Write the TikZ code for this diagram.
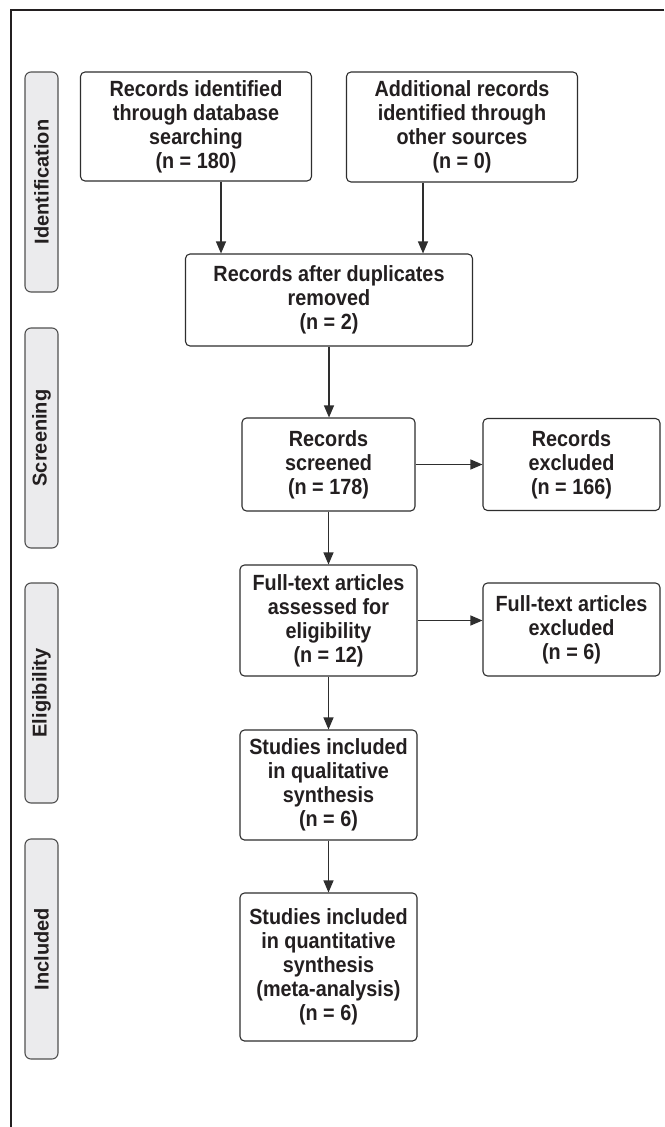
\documentclass[tikz,border=0pt]{standalone}
\usepackage{fontspec}
\setmainfont{Liberation Sans}
\newfontfamily\condfont{Liberation Sans}[FakeStretch=0.9]
\usetikzlibrary{arrows.meta}
\definecolor{txt}{HTML}{231F20}
\definecolor{linec}{HTML}{2E2E2E}
\definecolor{tabfill}{HTML}{EBEBED}
\definecolor{tabline}{HTML}{505050}
\begin{document}
\begin{tikzpicture}[x=1pt,y=-1pt,
  every node/.style={text=txt},
  box/.style={draw=linec, line width=1.1pt, rounded corners=4.5pt, align=center, inner sep=0pt, fill=white,
    font=\condfont\fontsize{22}{24}\selectfont\bfseries},
  tabbox/.style={draw=tabline, line width=1.1pt, fill=tabfill, rounded corners=6pt, rotate=90, inner sep=0pt,
    minimum width=220pt, minimum height=33pt, font=\fontsize{20}{24}\selectfont\bfseries},
  arr/.style={draw=linec, line width=1.1pt, -{Triangle[length=12pt,width=10pt]}}]
\useasboundingbox (0,0) rectangle (664,1127);
\fill[white] (0,0) rectangle (664,1127);
% frame (top and left)
\coordinate (fr1) at (664,10);
\coordinate (fr2) at (11,10);
\coordinate (fr3) at (11,1127);
\draw[line width=1.2pt, draw=txt] (fr1) -- (fr2) -- (fr3);
% phase tabs
\node[tabbox] (t1) at (41.5,182) {Identification};
\node[tabbox] (t2) at (41.5,438) {Screening};
\node[tabbox] (t3) at (41.5,693) {Eligibility};
\node[tabbox] (t4) at (41.5,949) {Included};
% boxes
\node[box, minimum width=231pt, minimum height=109pt] (b1) at (196,126.5) {Records identified\\through database\\searching\\(n = 180)};
\node[box, minimum width=231pt, minimum height=110pt] (b2) at (462,127) {Additional records\\identified through\\other sources\\(n = 0)};
\node[box, minimum width=287pt, minimum height=92pt] (b3) at (329,300) {Records after duplicates\\removed\\(n = 2)};
\node[box, minimum width=173pt, minimum height=93pt] (b4) at (328.5,464.5) {Records\\screened\\(n = 178)};
\node[box, minimum width=177pt, minimum height=92pt] (b5) at (571.5,464.5) {Records\\excluded\\(n = 166)};
\node[box, minimum width=177pt, minimum height=111pt] (b6) at (328.5,620.5) {Full-text articles\\assessed for\\eligibility\\(n = 12)};
\node[box, minimum width=177pt, minimum height=93pt] (b7) at (571.5,629.5) {Full-text articles\\excluded\\(n = 6)};
\node[box, minimum width=177pt, minimum height=110pt] (b8) at (328.5,785) {Studies included\\in qualitative\\synthesis\\(n = 6)};
\node[box, minimum width=177pt, minimum height=148pt] (b9) at (328.5,967) {Studies included\\in quantitative\\synthesis\\(meta-analysis)\\(n = 6)};
% connectors
\draw[arr] ([xshift=25pt]b1.south) coordinate (s1) -- (s1 |- b3.north);
\draw[arr] ([xshift=-39pt]b2.south) coordinate (s2) -- (s2 |- b3.north);
\draw[arr] (b3.south) -- (b3.south |- b4.north);
\draw[arr] (b4.east) -- (b4.east -| b5.west);
\draw[arr] (b4.south) -- (b6.north);
\draw[arr] (b6.east) -- (b6.east -| b7.west);
\draw[arr] (b6.south) -- (b8.north);
\draw[arr] (b8.south) -- (b9.north);
\end{tikzpicture}
\end{document}
